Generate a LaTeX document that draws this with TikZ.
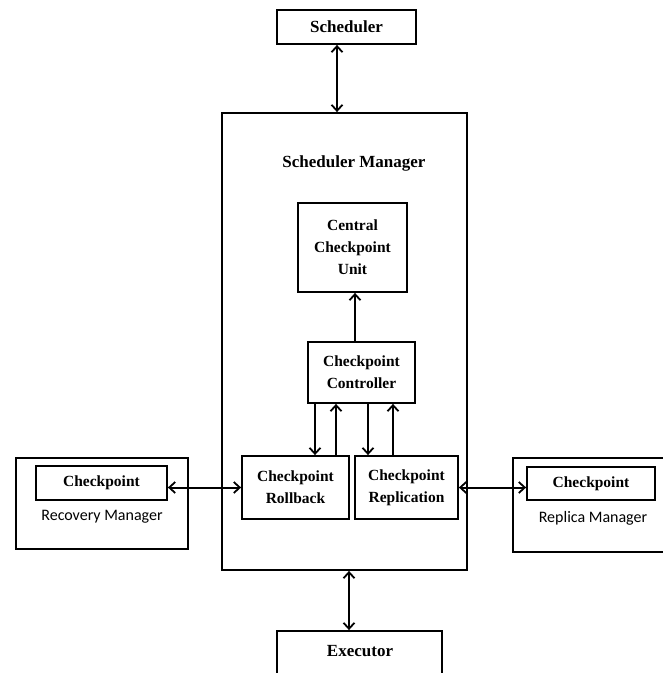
\documentclass[tikz,border=0pt]{standalone}
\usepackage{fontspec}
\setmainfont{Liberation Serif}
\newfontfamily\calfont{Carlito}
\usetikzlibrary{arrows.meta}
\begin{document}
\begin{tikzpicture}[x=1pt,y=-1pt,
  box/.style={draw,line width=1.8pt,inner sep=0pt,align=center,font=\bfseries\fontsize{15.5}{22}\selectfont},
  bigbox/.style={box,font=\bfseries\fontsize{17}{22}\selectfont},
  conn/.style={line width=2pt,{Straight Barb[length=6pt,width=11pt,line width=1.8pt]}-{Straight Barb[length=6pt,width=11pt,line width=1.8pt]}},
  uconn/.style={line width=2pt,-{Straight Barb[length=6pt,width=11pt,line width=1.8pt]}},
  lbl/.style={inner sep=0pt}]
\clip (0,0) rectangle (663,673);
\fill[white] (0,0) rectangle (663,673);
% boxes
\node[bigbox,minimum width=139pt,minimum height=34pt] (sched) at (346.5,27) {Scheduler};
\node[box,minimum width=245pt,minimum height=457pt] (mgr) at (344.5,341.5) {};
\node[lbl,font=\bfseries\fontsize{17}{22}\selectfont] (mgrlbl) at (354,163) {Scheduler Manager};
\node[box,minimum width=109pt,minimum height=89pt] (central) at (352.5,247.5) {Central\\Checkpoint\\Unit};
\node[box,minimum width=107pt,minimum height=61pt] (ctrl) at (361.5,372.5) {Checkpoint\\Controller};
\node[box,minimum width=107pt,minimum height=63pt] (roll) at (295.5,487.5) {Checkpoint\\Rollback};
\node[box,minimum width=103pt,minimum height=63pt] (repl) at (406.5,487.5) {Checkpoint\\Replication};
\node[box,minimum width=172pt,minimum height=91pt] (recov) at (102,503.5) {};
\node[box,minimum width=131pt,minimum height=34pt] (rcp) at (101.5,483) {Checkpoint};
\node[lbl,font=\calfont\fontsize{16}{20}\selectfont] (recovlbl) at (102,517) {Recovery Manager};
\node[box,minimum width=200pt,minimum height=94pt] (replica) at (613,505) {};
\node[box,minimum width=128pt,minimum height=33pt] (pcp) at (591,483.5) {Checkpoint};
\node[lbl,font=\calfont\fontsize{16}{20}\selectfont] (replicalbl) at (593,518) {Replica Manager};
\node[bigbox,minimum width=165pt,minimum height=69pt] (exec) at (359.5,665.5) {};
\node[lbl,font=\bfseries\fontsize{17}{22}\selectfont] (execlbl) at (360,651) {Executor};
% connectors
\coordinate (xa) at (337,0);
\coordinate (xb) at (349,0);
\coordinate (xc) at (355,0);
\coordinate (xd) at (315,0);
\coordinate (xe) at (336,0);
\coordinate (xf) at (368,0);
\coordinate (xg) at (393,0);
\draw[conn] (sched.south -| xa) -- (mgr.north -| xa);
\draw[conn] (mgr.south -| xb) -- (exec.north -| xb);
\draw[uconn] (ctrl.north -| xc) -- (central.south -| xc);
\draw[uconn] (ctrl.south -| xd) -- (roll.north -| xd);
\draw[uconn] (roll.north -| xe) -- (ctrl.south -| xe);
\draw[uconn] (ctrl.south -| xf) -- (repl.north -| xf);
\draw[uconn] (repl.north -| xg) -- (ctrl.south -| xg);
\draw[conn] (rcp.east |- roll.west) -- (roll.west);
\draw[conn] (repl.east) -- (repl.east -| pcp.west);
\end{tikzpicture}
\end{document}
